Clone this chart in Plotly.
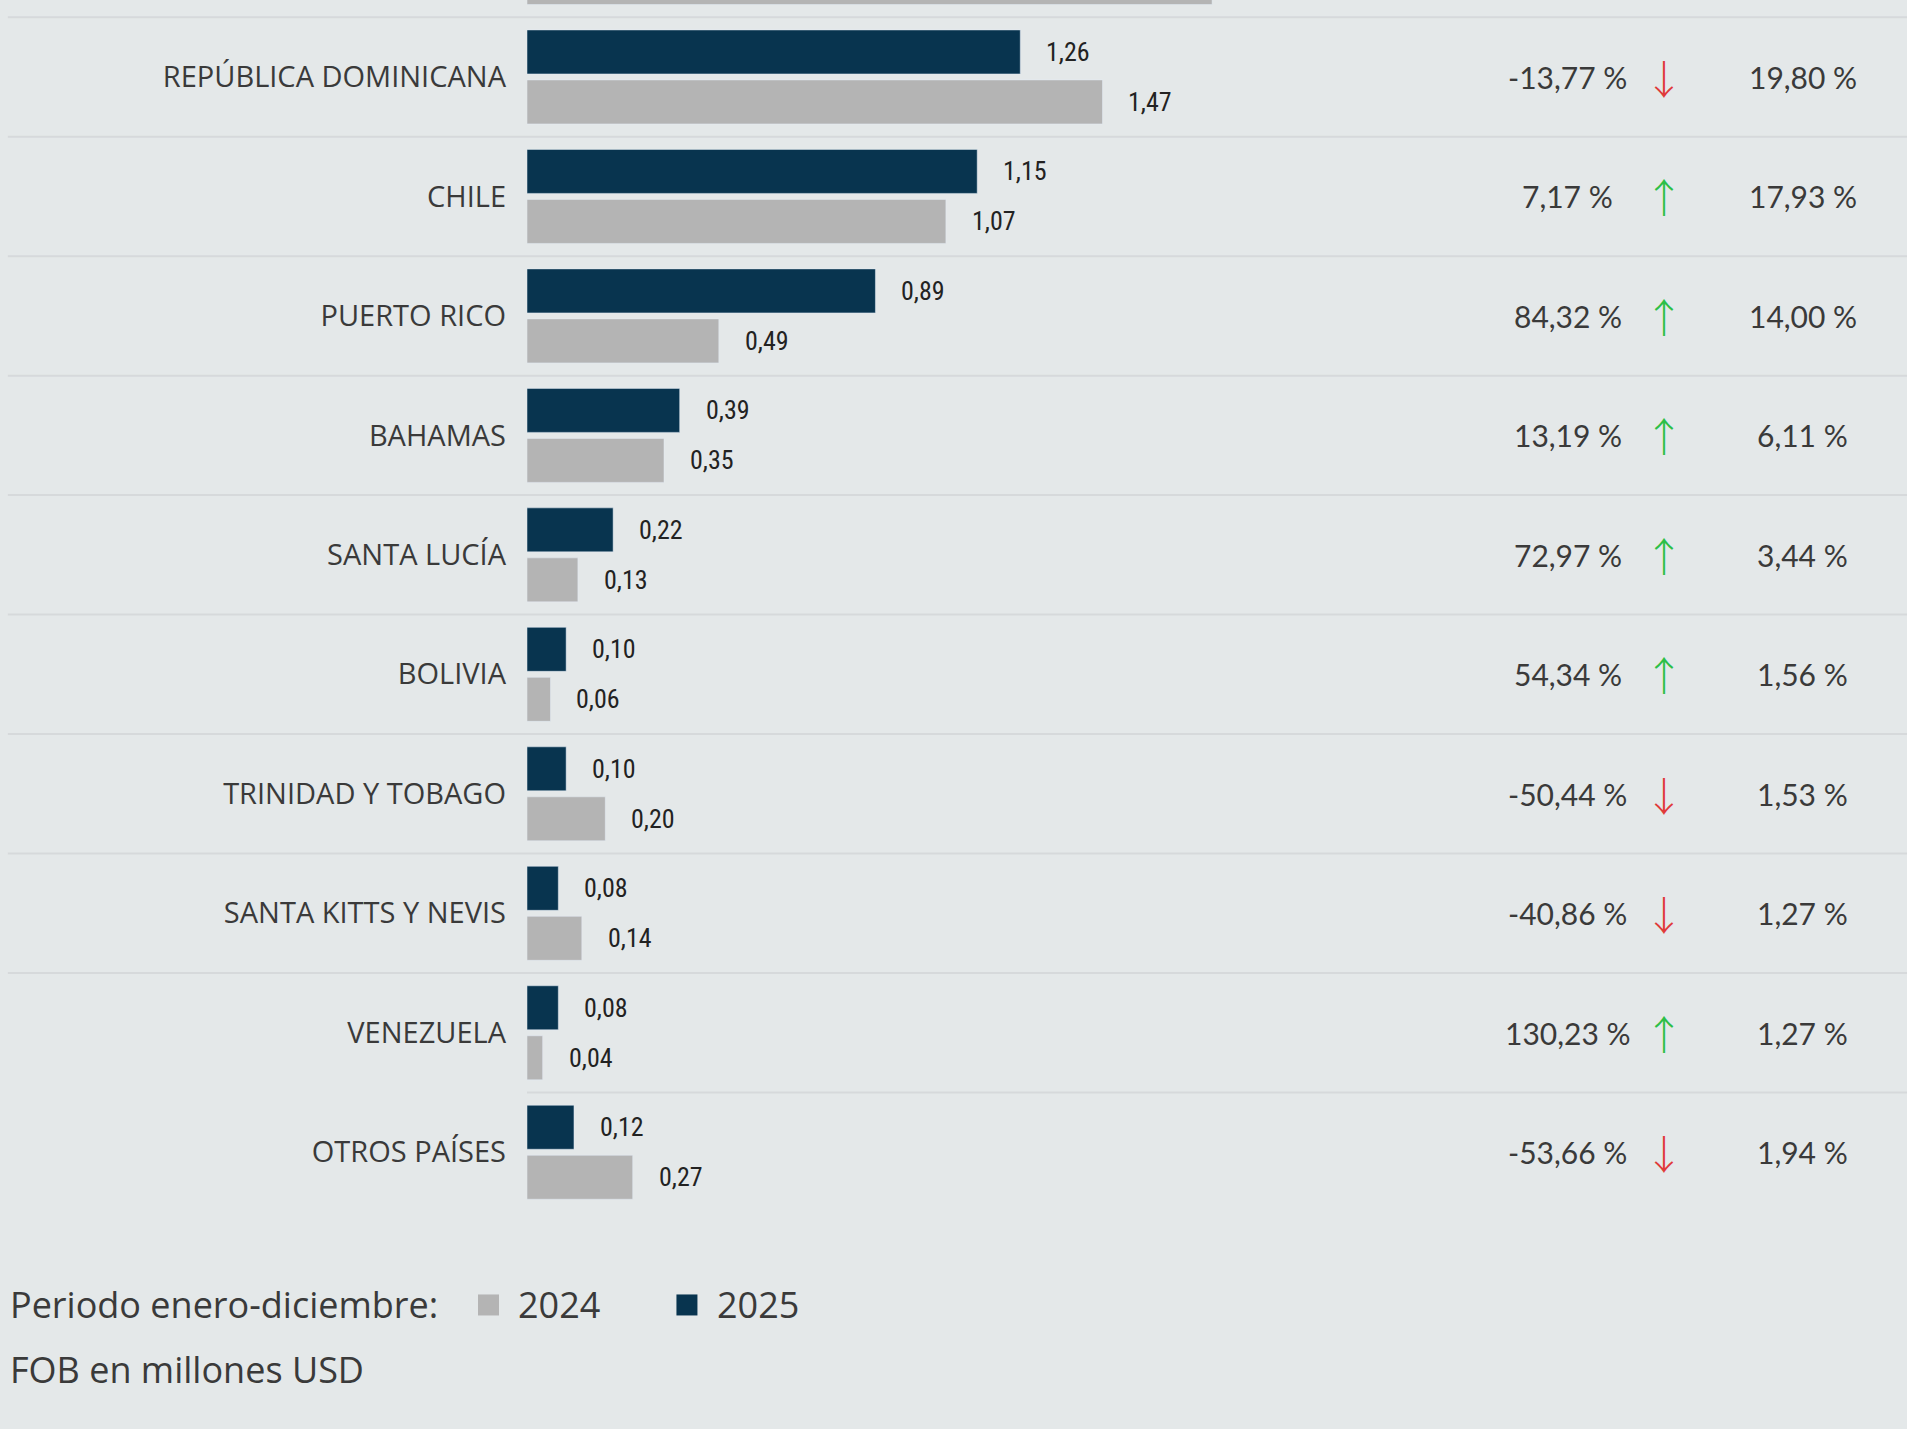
import plotly.graph_objects as go

# first row is cut off at the top of the reference, only the bottom of its 2024 bar shows
paises = ["", "REPÚBLICA DOMINICANA", "CHILE", "PUERTO RICO", "BAHAMAS", "SANTA LUCÍA",
          "BOLIVIA", "TRINIDAD Y TOBAGO", "SANTA KITTS Y NEVIS", "VENEZUELA", "OTROS PAÍSES"]
fob_2025 = [None, 1.26, 1.15, 0.89, 0.39, 0.22, 0.10, 0.10, 0.08, 0.08, 0.12]
fob_2024 = [1.75, 1.47, 1.07, 0.49, 0.35, 0.13, 0.06, 0.20, 0.14, 0.04, 0.27]
variacion = [None, -13.77, 7.17, 84.32, 13.19, 72.97, 54.34, -50.44, -40.86, 130.23, -53.66]
participacion = [None, 19.80, 17.93, 14.00, 6.11, 3.44, 1.56, 1.53, 1.27, 1.27, 1.94]
anios = ["2024", "2025"]

AZUL = "#08344f"
GRIS = "#b4b4b4"
FONDO = "#e4e8e9"
LINEA = "#d6d9db"
TEXTO = "#3a3a3a"
IZQ = -0.3762  # left edge of the page in paper units


def es(v):
    return f"{v:.2f}".replace(".", ",")


filas = list(range(len(paises)))

fig = go.Figure()
fig.add_trace(go.Bar(y=filas, x=fob_2025, orientation="h", name="2025",
                     marker=dict(color=AZUL), hoverinfo="skip", showlegend=False))
fig.add_trace(go.Bar(y=filas, x=fob_2024, orientation="h", name="2024",
                     marker=dict(color=GRIS), hoverinfo="skip", showlegend=False))

anot = []
shapes = []
desp = 0.209  # half of a bar slot with the gaps below
for i in filas:
    for val, dy in ((fob_2025[i], -desp), (fob_2024[i], desp)):
        if val is None or i == 0:
            continue
        anot.append(dict(x=val, y=i + dy, xref="x", yref="y", text=es(val),
                         showarrow=False, xanchor="left", xshift=24,
                         font=dict(family="Roboto Condensed, Liberation Sans Narrow, sans-serif",
                                   size=26, color="#222222")))
    if variacion[i] is not None:
        v = variacion[i]
        anot.append(dict(x=0.7543, y=i, xref="paper", yref="y", text=es(v) + " %",
                         showarrow=False, xanchor="center",
                         font=dict(family="Lato", size=30, color=TEXTO)))
        anot.append(dict(x=0.8239, y=i, xref="paper", yref="y",
                         text="↓" if v < 0 else "↑", showarrow=False, xanchor="center",
                         font=dict(family="Noto Sans CJK SC", size=40, weight=300,
                                   color="#e03a3a" if v < 0 else "#2dbf47")))
        anot.append(dict(x=0.9246, y=i, xref="paper", yref="y",
                         text=es(participacion[i]) + " %", showarrow=False, xanchor="center",
                         font=dict(family="Lato", size=30, color=TEXTO)))
    if i < len(filas) - 1:
        shapes.append(dict(type="line", xref="paper", yref="y",
                           x0=IZQ if i < len(filas) - 2 else 0, x1=1,
                           y0=i + 0.5, y1=i + 0.5, line=dict(color=LINEA, width=2),
                           layer="below"))

# legend and unit note below the chart
ley_y = -0.0767
fuente_ley = dict(family="Open Sans", size=36, color=TEXTO)
anot.append(dict(x=IZQ, y=ley_y, xref="paper", yref="paper", text="Periodo enero-diciembre:",
                 showarrow=False, xanchor="left", yanchor="middle", font=fuente_ley))
for anio, color, xc, xt in ((anios[0], GRIS, -0.0279, -0.0082), (anios[1], AZUL, 0.1159, 0.1362)):
    shapes.append(dict(type="rect", xref="paper", yref="paper", xsizemode="pixel",
                       ysizemode="pixel", xanchor=xc, yanchor=ley_y,
                       x0=-10.5, x1=10.5, y0=-10.5, y1=10.5,
                       fillcolor=color, line=dict(width=0)))
    anot.append(dict(x=xt, y=ley_y, xref="paper", yref="paper", text=anio,
                     showarrow=False, xanchor="left", yanchor="middle", font=fuente_ley))
anot.append(dict(x=IZQ, y=-0.13, xref="paper", yref="paper", text="FOB en millones USD",
                 showarrow=False, xanchor="left", yanchor="middle", font=fuente_ley))

fig.update_layout(
    width=1907, height=1429,
    margin=dict(l=527, r=0, t=0, b=217),
    paper_bgcolor=FONDO, plot_bgcolor=FONDO,
    barmode="group", bargap=0.163, bargroupgap=0.12,
    annotations=anot, shapes=shapes,
    showlegend=False,
)
fig.update_xaxes(range=[0, 3.525], visible=False, fixedrange=True)
fig.update_yaxes(range=[10.5, 0.356], tickvals=filas, ticktext=paises,
                 showgrid=False, zeroline=False, showline=False, ticks="",
                 ticklabelstandoff=20,
                 tickfont=dict(family="Open Sans", size=29, color=TEXTO))

fig.write_html("out.html", config={"displayModeBar": False},
               post_script="document.body.style.margin='0';")
